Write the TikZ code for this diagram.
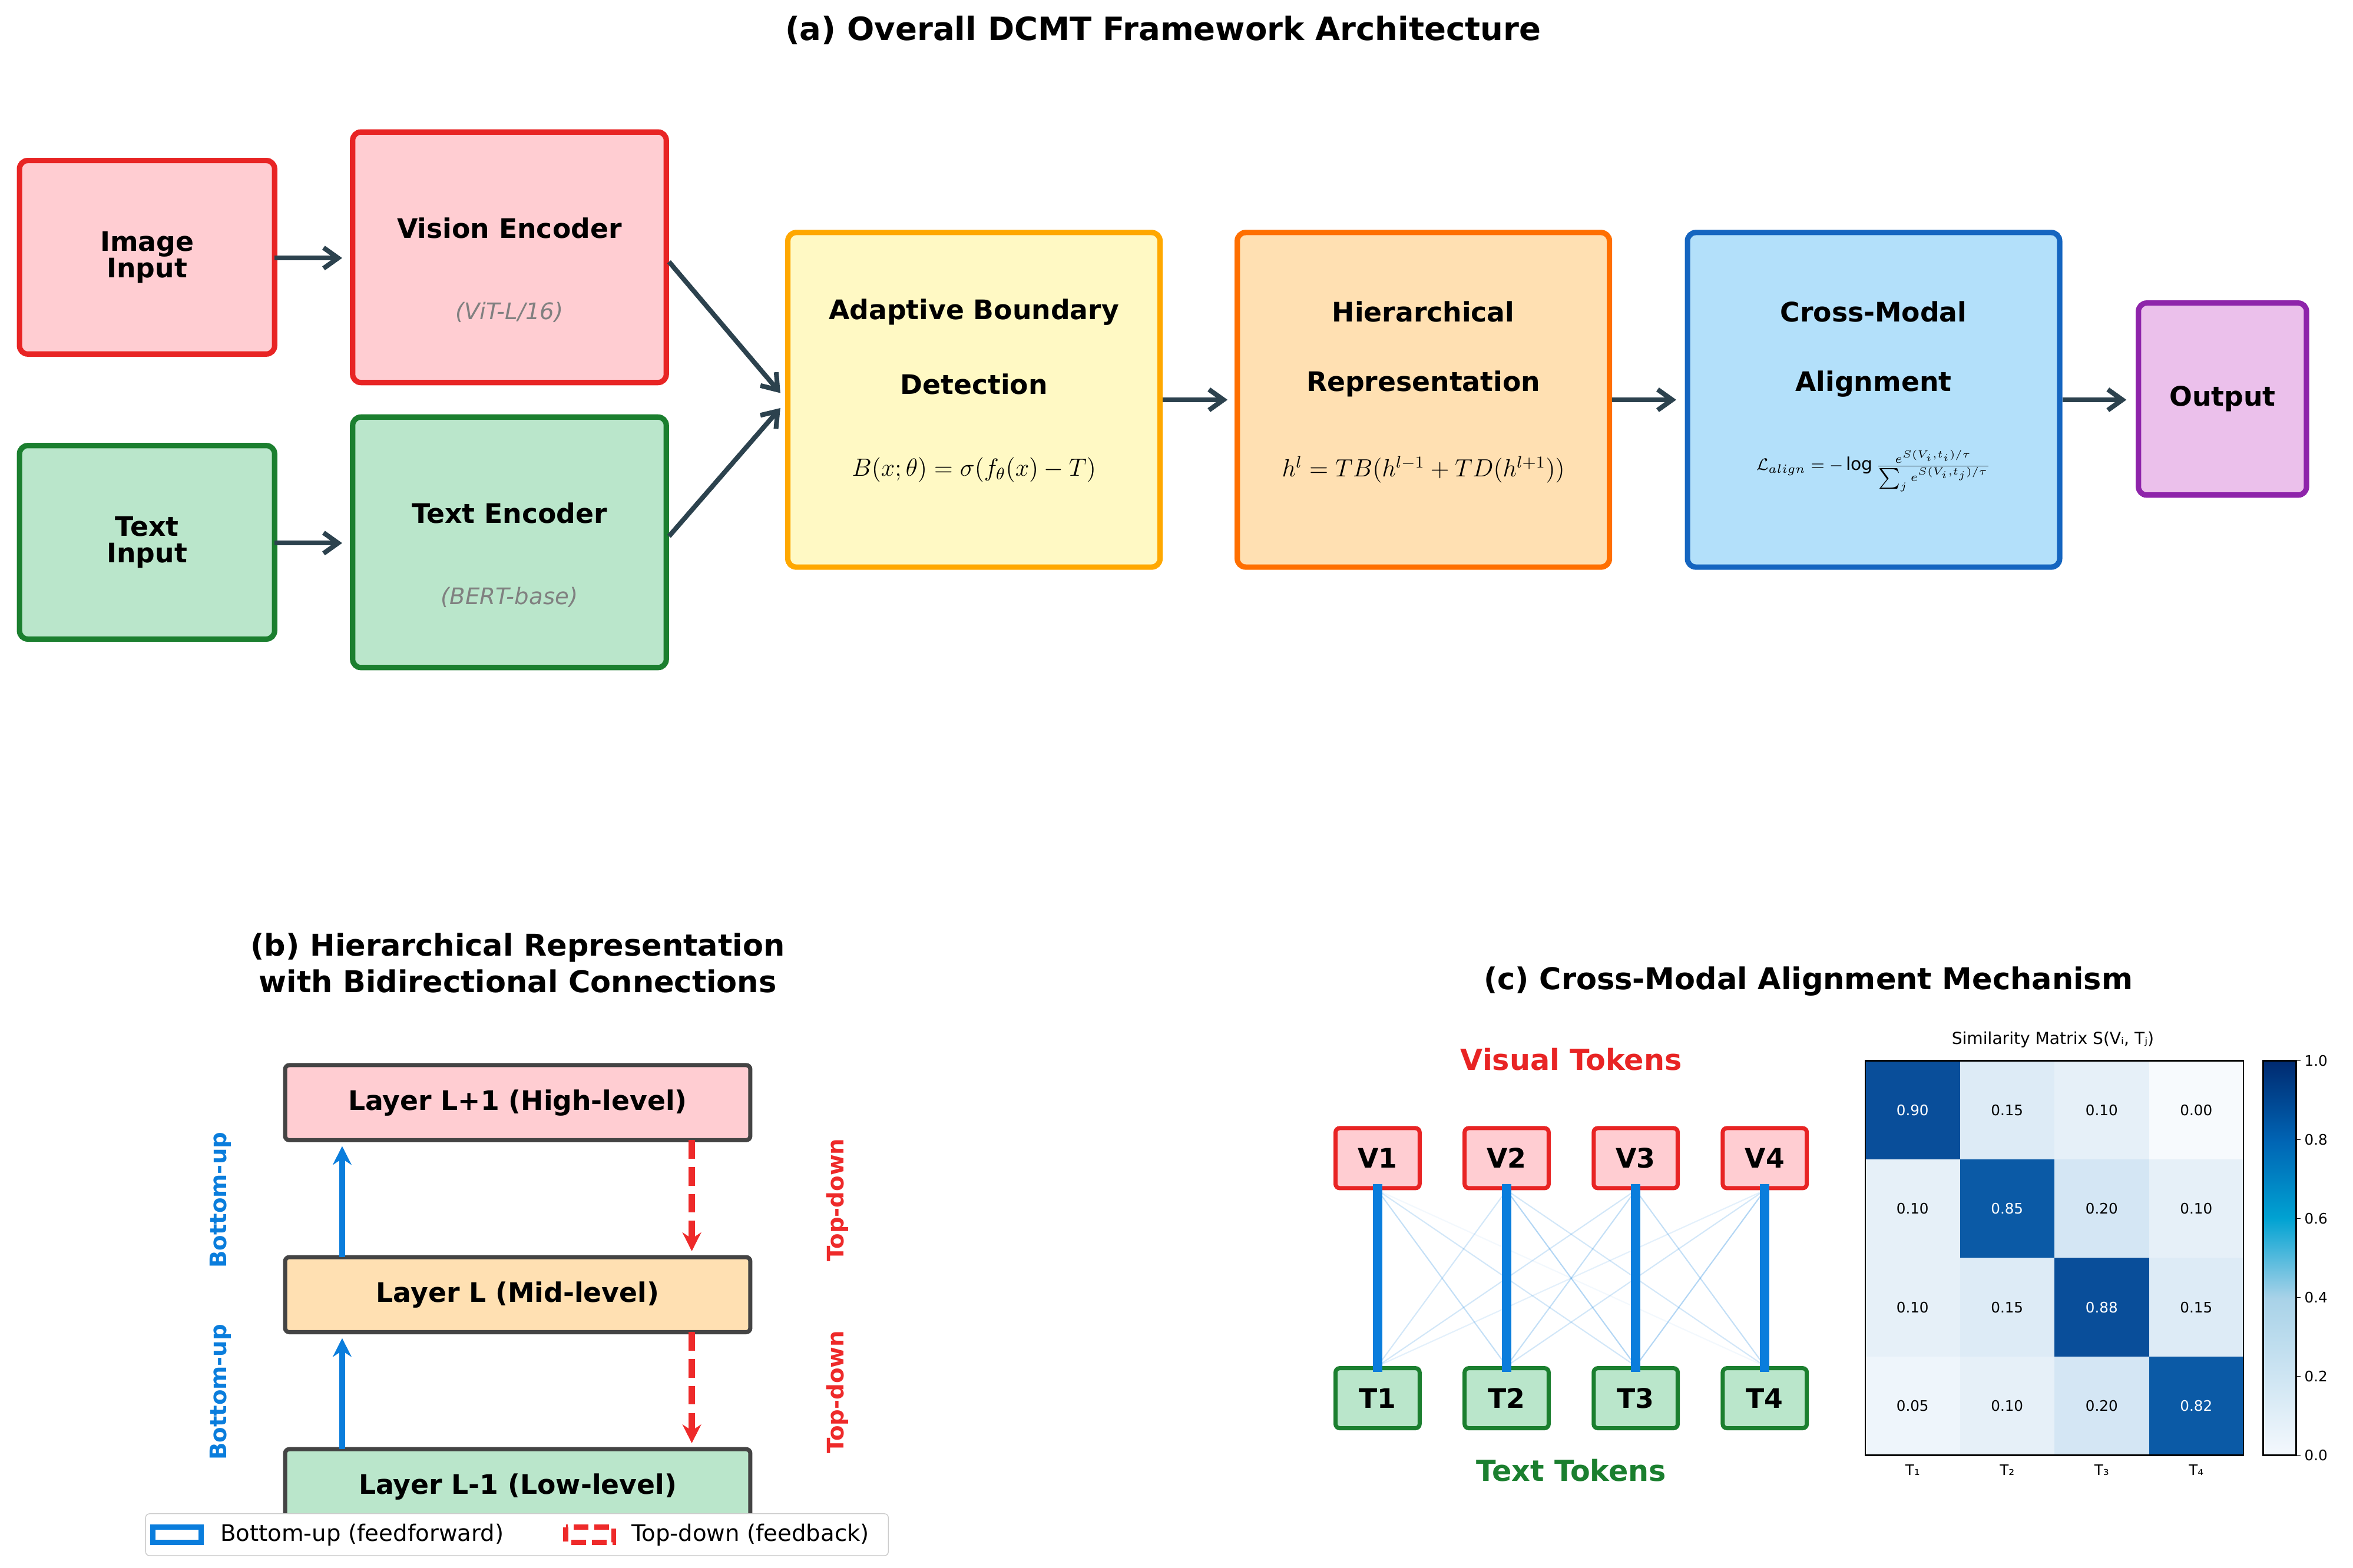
\documentclass[tikz,border=0pt]{standalone}
\usepackage{fontspec}
\setmainfont{DejaVu Sans}
\usetikzlibrary{arrows.meta}
\newlength\pxu \setlength\pxu{0.02548cm}
\definecolor{redB}{HTML}{E82424}\definecolor{redF}{HTML}{FFCDD2}
\definecolor{grnB}{HTML}{1B7F2F}\definecolor{grnF}{HTML}{BAE6CB}
\definecolor{ylwB}{HTML}{FFA800}\definecolor{ylwF}{HTML}{FFF9C4}
\definecolor{orgB}{HTML}{FF6F00}\definecolor{orgF}{HTML}{FFE0B2}
\definecolor{bluB}{HTML}{1565C0}\definecolor{bluF}{HTML}{B3E0FA}
\definecolor{purB}{HTML}{8E24AA}\definecolor{purF}{HTML}{EBC0EB}
\definecolor{arr}{HTML}{2C424E}\definecolor{bu}{HTML}{0A7DDC}
\definecolor{td}{HTML}{EE2A2A}\definecolor{lay}{HTML}{444444}
\definecolor{hm}{HTML}{3C8CCB}
\tikzset{x=\pxu,y=-\pxu,
 box/.style={draw,line width=2.6pt,rounded corners=4pt,inner sep=0pt},
 lbox/.style={draw=lay,line width=2pt,rounded corners=2pt,minimum width=310\pxu,minimum height=50\pxu,font=\fontsize{13}{15}\selectfont\bfseries},
 tok/.style={draw,line width=2pt,rounded corners=2pt,minimum width=56\pxu,minimum height=40\pxu,font=\fontsize{13}{15}\selectfont\bfseries},
 bt/.style={font=\fontsize{13}{15}\selectfont\bfseries,align=center},
 sub/.style={font=\fontsize{11}{13}\selectfont\itshape,text=gray},
 fa/.style={arr,line width=2.3pt,-{Straight Barb[length=7pt,width=10pt]}},
 ttl/.style={font=\fontsize{15.5}{19}\selectfont\bfseries,align=center},
 ttls/.style={font=\fontsize{14.5}{17.5}\selectfont\bfseries,align=center},
 cell/.style={minimum width=63\pxu,minimum height=65.75\pxu,inner sep=0pt,font=\fontsize{7}{8}\selectfont},
}
\begin{document}
\begin{tikzpicture}
\useasboundingbox (0,0) rectangle (1568,1045);
\fill[white] (0,0) rectangle (1568,1045);
\node[ttl] (ta) at (775,20) {(a) Overall DCMT Framework Architecture};
% (a)
\node[box,draw=redB,fill=redF,minimum width=170\pxu,minimum height=129\pxu] (img) at (98,171.5) {};
\node[bt] at (img) {Image\\[-2pt]Input};
\node[box,draw=redB,fill=redF,minimum width=209\pxu,minimum height=167\pxu] (ve) at (339.5,171.5) {};
\node[bt] at (339.5,152) {Vision Encoder};
\node[sub] at (339.5,208) {(ViT-L/16)};
\node[box,draw=grnB,fill=grnF,minimum width=170\pxu,minimum height=129\pxu] (txt) at (98,361.5) {};
\node[bt] at (txt) {Text\\[-2pt]Input};
\node[box,draw=grnB,fill=grnF,minimum width=209\pxu,minimum height=167\pxu] (te) at (339.5,361.5) {};
\node[bt] at (339.5,342) {Text Encoder};
\node[sub] at (339.5,398) {(BERT-base)};
\node[box,draw=ylwB,fill=ylwF,minimum width=248\pxu,minimum height=223\pxu] (ab) at (649,266.5) {};
\node[bt] at (649,208) {Adaptive Boundary};
\node[bt] at (649,256) {Detection};
\node[font=\fontsize{12}{14}\selectfont] at (649,313) {$B(x;\theta)=\sigma(f_\theta(x)-T)$};
\node[box,draw=orgB,fill=orgF,minimum width=248\pxu,minimum height=223\pxu] (hr) at (948.5,266.5) {};
\node[bt] at (948.5,208) {Hierarchical};
\node[bt] at (948.5,256) {Representation};
\node[font=\fontsize{12}{14}\selectfont] at (948.5,313) {$h^l=TB(h^{l-1}+TD(h^{l+1}))$};
\node[box,draw=bluB,fill=bluF,minimum width=248\pxu,minimum height=223\pxu] (cm) at (1248.5,266.5) {};
\node[bt] at (1248.5,208) {Cross-Modal};
\node[bt] at (1248.5,256) {Alignment};
\node[font=\fontsize{8.5}{10}\selectfont] at (1248.5,314) {$\mathcal{L}_{align}=-\log\frac{e^{S(V_i,t_i)/\tau}}{\sum_j e^{S(V_i,t_j)/\tau}}$};
\node[box,draw=purB,fill=purF,minimum width=112\pxu,minimum height=128\pxu] (out) at (1481,266) {};
\node[bt] at (out) {Output};
\draw[fa] (183,172) -- (228,172);
\draw[fa] (183,362) -- (228,362);
\draw[fa] (ve.east) ++(0,3) -- (520,262);
\draw[fa] (te.east) ++(0,-4) -- (520,272);
\draw[fa] (ab.east) -- (818,266.5);
\draw[fa] (hr.east) -- (1117,266.5);
\draw[fa] (cm.east) -- (1417,266.5);
% (b)
\node[ttls] (tb) at (345,642) {(b) Hierarchical Representation\\with Bidirectional Connections};
\node[lbox,fill=redF] (l2) at (345,735) {Layer L+1 (High-level)};
\node[lbox,fill=orgF] (l1) at (345,863) {Layer L (Mid-level)};
\node[lbox,fill=grnF] (l0) at (345,991) {Layer L-1 (Low-level)};
\draw[bu,line width=3pt,-{Stealth[length=9pt,width=9pt]}] (228,838) -- (228,764);
\draw[bu,line width=3pt,-{Stealth[length=9pt,width=9pt]}] (228,966) -- (228,892);
\draw[td,line width=3pt,dash pattern=on 9pt off 4pt,-{Stealth[length=9pt,width=9pt]}] (461,760) -- (461,834);
\draw[td,line width=3pt,dash pattern=on 9pt off 4pt,-{Stealth[length=9pt,width=9pt]}] (461,888) -- (461,962);
\foreach \y in {800,928}{
 \node[rotate=90,text=bu,font=\fontsize{11}{13}\selectfont\bfseries] at (147,\y) {Bottom-up};
 \node[rotate=90,text=td,font=\fontsize{11}{13}\selectfont\bfseries] at (558,\y) {Top-down};}
\node[draw=black!20,fill=white,rounded corners=2pt,minimum width=495\pxu,minimum height=28\pxu] (leg) at (344.5,1023) {};
\draw[bu,line width=2.5pt] (102,1018) rectangle (134,1028);
\node[anchor=west,font=\fontsize{11}{13}\selectfont] at (142,1023) {Bottom-up (feedforward)};
\draw[td,line width=2.5pt,dash pattern=on 7pt off 3pt] (377,1018) rectangle (409,1028);
\node[anchor=west,font=\fontsize{11}{13}\selectfont] at (416,1023) {Top-down (feedback)};
% (c)
\node[ttls] (tc) at (1205,654) {(c) Cross-Modal Alignment Mechanism};
\node[text=redB,font=\fontsize{14}{16}\selectfont\bfseries] at (1047,706) {Visual Tokens};
\node[text=grnB,font=\fontsize{14}{16}\selectfont\bfseries] at (1047,980) {Text Tokens};
\foreach \i/\x in {1/918,2/1004,3/1090,4/1176}{
 \node[tok,draw=redB,fill=redF] (V\i) at (\x,772) {V\i};
 \node[tok,draw=grnB,fill=grnF] (T\i) at (\x,932) {T\i};}
\def\S{{{0.90,0.15,0.10,0.00},{0.10,0.85,0.20,0.10},{0.10,0.15,0.88,0.15},{0.05,0.10,0.20,0.82}}}
\foreach \i in {1,...,4}{\foreach \j in {1,...,4}{
 \pgfmathsetmacro\v{\S[\i-1][\j-1]}
 \ifnum\i=\j\else
 \draw[bu,line width=0.6pt,opacity=\v*1.3+0.05] (V\i.south) -- (T\j.north);\fi}}
\foreach \i in {1,...,4}{\draw[bu,line width=4.5pt] ([yshift=4\pxu]V\i.south) -- ([yshift=-4\pxu]T\i.north);}
% heatmap
\node[font=\fontsize{8}{9}\selectfont] (st) at (1368,693) {Similarity Matrix S(Vᵢ, Tⱼ)};
\foreach \r/\row in {0/{0.90,0.15,0.10,0.00},1/{0.10,0.85,0.20,0.10},2/{0.10,0.15,0.88,0.15},3/{0.05,0.10,0.20,0.82}}{
 \foreach \v [count=\c from 0] in \row{
  \pgfmathparse{\v>0.5?1:0}
  \ifnum\pgfmathresult=1
   \definecolor{cc}{HTML}{094E9A}\def\tc{white}
   \ifdim\v pt<0.86pt \definecolor{cc}{HTML}{0B5AA6}\fi
  \else
   \pgfmathsetmacro\k{\v*90+4}\colorlet{cc}{hm!\k!white}\def\tc{black}
  \fi
  \node[cell,fill=cc,text=\tc] (c\r\c) at (1274.5+63*\c,739.875+65.75*\r) {\v};}}
\draw[black,line width=0.8pt] (1243,707) rectangle (1495,970);
\foreach \k/\x in {1/1274.5,2/1337.5,3/1400.5,4/1463.5}{
 \node[font=\fontsize{7}{8}\selectfont] at (\x,980) {T\ifcase\k\or₁\or₂\or₃\or₄\fi};}
% colorbar
\definecolor{cb1}{HTML}{F4F8FD}\definecolor{cb2}{HTML}{A8D2E8}\definecolor{cb3}{HTML}{00A2D2}
\definecolor{cb4}{HTML}{0064B4}\definecolor{cb5}{HTML}{002A70}
\shade[bottom color=cb1,top color=cb2] (1508,970) rectangle (1530,865);
\shade[bottom color=cb2,top color=cb3] (1508,865.3) rectangle (1530,812);
\shade[bottom color=cb3,top color=cb4] (1508,812.3) rectangle (1530,760);
\shade[bottom color=cb4,top color=cb5] (1508,760.3) rectangle (1530,707);
\draw[line width=0.8pt] (1508,707) rectangle (1530,970);
\foreach \t [count=\n from 0] in {0.0,0.2,0.4,0.6,0.8,1.0}{
 \draw (1530,970-52.6*\n) -- (1533,970-52.6*\n);
 \node[anchor=west,font=\fontsize{7}{8}\selectfont,inner sep=1pt] at (1534,970-52.6*\n) {\t};}
\end{tikzpicture}
\end{document}
